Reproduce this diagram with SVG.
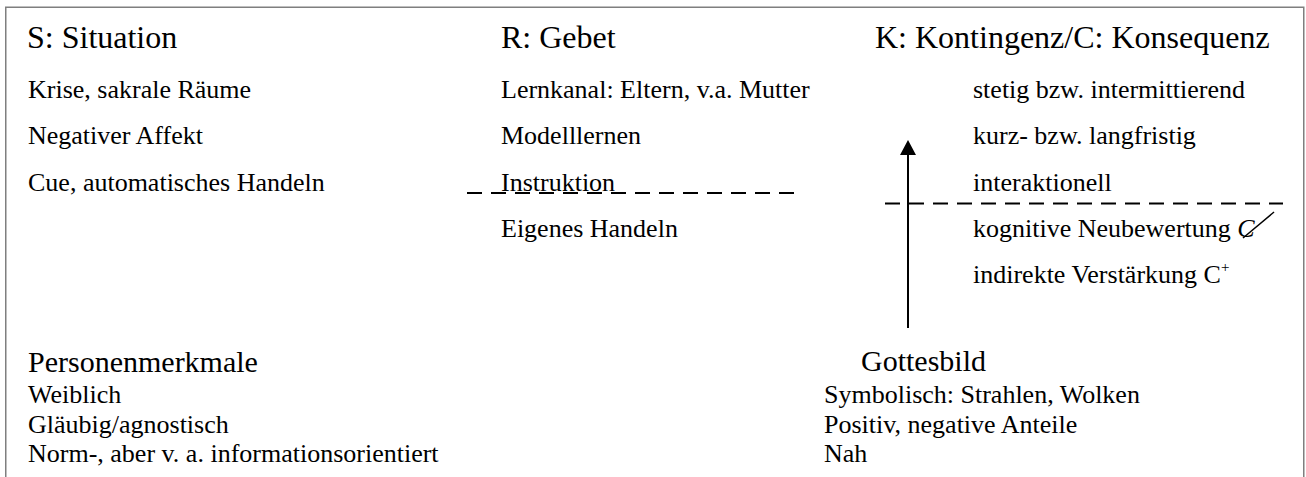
<svg xmlns="http://www.w3.org/2000/svg" width="1306" height="477" viewBox="0 0 1306 477">
<defs>
<style>
text{font-family:"Liberation Serif","Times New Roman",serif;fill:#000}
.h{font-size:32px}
.b{font-size:26px}
.h2{font-size:30px}
.dash{stroke:#000;stroke-width:2;stroke-dasharray:15 9;fill:none}
.frame{stroke:#7f7f7f;stroke-width:1.5;fill:none}
</style>
<marker id="ah" viewBox="0 0 15 16" refX="0" refY="8" markerWidth="15" markerHeight="16" markerUnits="userSpaceOnUse" orient="auto">
<path d="M0,0 L15,8 L0,16 z" fill="#000"/>
</marker>
</defs>
<rect width="1306" height="477" fill="#fff"/>
<path class="frame" d="M5.75,477 V7.25 H1303.75 V477"/>
<g id="situation">
<text class="h" x="27" y="48">S: Situation</text>
<text class="b" x="28" y="98">Krise, sakrale Räume</text>
<text class="b" x="28" y="144">Negativer Affekt</text>
<text class="b" x="28" y="191">Cue, automatisches Handeln</text>
</g>
<g id="gebet">
<text class="h" x="501" y="48">R: Gebet</text>
<text class="b" x="501" y="98">Lernkanal: Eltern, v.a. Mutter</text>
<text class="b" x="501" y="144">Modelllernen</text>
<text class="b" x="501" y="191">Instruktion</text>
<text class="b" x="501" y="237">Eigenes Handeln</text>
</g>
<g id="kontingenz">
<text class="h" x="875" y="48">K: Kontingenz/C: Konsequenz</text>
<text class="b" x="973" y="98">stetig bzw. intermittierend</text>
<text class="b" x="973" y="144">kurz- bzw. langfristig</text>
<text class="b" x="973" y="191">interaktionell</text>
<text class="b" x="973" y="237">kognitive Neubewertung <tspan font-style="italic">C</tspan></text>
<line x1="1243" y1="238" x2="1274" y2="212" stroke="#000" stroke-width="1.5"/>
<text class="b" x="973" y="283">indirekte Verstärkung C<tspan font-size="15" dy="-11">+</tspan></text>
</g>
<g id="personenmerkmale">
<text class="h2" x="28" y="372">Personenmerkmale</text>
<text class="b" x="28" y="403">Weiblich</text>
<text class="b" x="28" y="433">Gläubig/agnostisch</text>
<text class="b" x="28" y="462">Norm-, aber v. a. informationsorientiert</text>
</g>
<g id="gottesbild">
<text class="h2" x="861" y="371">Gottesbild</text>
<text class="b" x="824" y="403">Symbolisch: Strahlen, Wolken</text>
<text class="b" x="824" y="433">Positiv, negative Anteile</text>
<text class="b" x="824" y="462">Nah</text>
</g>
<g id="separators">
<line class="dash" x1="467" y1="193" x2="798" y2="193"/>
<line class="dash" x1="885" y1="203.5" x2="1283" y2="203.5"/>
</g>
<g id="connectors">
<line x1="908" y1="328" x2="908" y2="155" stroke="#000" stroke-width="2" marker-end="url(#ah)"/>
</g>
</svg>
